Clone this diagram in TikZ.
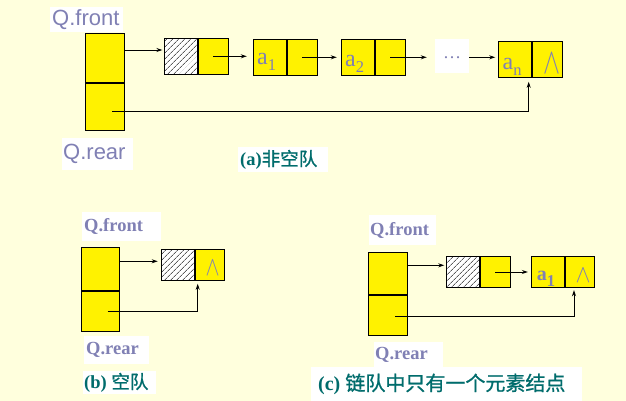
\documentclass[tikz,border=0pt]{standalone}
\usepackage{fontspec}
\setmainfont{Liberation Serif}
\setsansfont{Liberation Sans}
\newfontfamily\cjk{Noto Sans CJK SC}[FakeBold=1]
\usetikzlibrary{arrows.meta,patterns.meta}
\definecolor{paper}{RGB}{255,255,221}
\definecolor{ink}{RGB}{128,128,180}
\definecolor{capteal}{RGB}{0,108,108}
\newcommand{\subidx}[1]{\raisebox{-6pt}{\fontsize{16.5}{16.5}\selectfont #1}}
\newcommand{\nullmark}[2]{\resizebox{#1pt}{#2pt}{$\wedge$}}

\begin{document}
\begin{tikzpicture}[x=1pt,y=-1pt,
  cell/.style={draw=black,line width=1pt,fill=yellow,inner sep=0pt},
  hatched/.style={preaction={fill=white},pattern={Lines[angle=45,distance=4pt,line width=0.6pt]}},
  ptr/.style={line width=0.9pt,-{Stealth[length=6pt,width=4pt]}},
  lab/.style={fill=white,inner sep=1pt,anchor=north west,text=ink},
  sanslab/.style={lab,font=\sffamily\fontsize{22}{22}\selectfont},
  boldlab/.style={lab,font=\bfseries\fontsize{18.5}{18.5}\selectfont},
  caption/.style={fill=white,inner sep=1pt,anchor=north west,text=capteal},
  elem/.style={anchor=base west,inner sep=0pt,text=ink},
  nullsym/.style={inner sep=0pt,text=ink}]

% page
\path[fill=paper,use as bounding box] (0,0) rectangle (626,401);

% ---------- (a) non-empty queue ----------
\node[cell,minimum width=39,minimum height=49] (qaf) at (104.6,57.8) {};
\node[cell,minimum width=39,minimum height=47,anchor=north] (qar) at (qaf.south) {};

\node[cell,hatched,minimum width=33,minimum height=36] (hal) at (180.7,56.3) {};
\node[cell,minimum width=30.7,minimum height=36,anchor=west] (har) at (hal.east) {};

\node[cell,minimum width=33,minimum height=36] (al1) at (269.8,57.3) {};
\node[cell,minimum width=30,minimum height=36,anchor=west] (ar1) at (al1.east) {};

\node[cell,minimum width=33,minimum height=36] (al2) at (357.8,57.3) {};
\node[cell,minimum width=30,minimum height=36,anchor=west] (ar2) at (al2.east) {};

\node[fill=white,minimum width=34,minimum height=34,inner sep=0pt,text=ink,
      font=\fontsize{18}{18}\selectfont] (dots) at (452,56) {\raisebox{-5pt}{\ldots}};

\node[cell,minimum width=33,minimum height=36] (anl) at (514.8,59.3) {};
\node[cell,minimum width=30,minimum height=36,anchor=west] (anr) at (anl.east) {};

\node[elem,font=\fontsize{24}{24}\selectfont] (ta1) at (257,65) {a\subidx{1}};
\node[elem,font=\fontsize{24}{24}\selectfont] (ta2) at (345,66.5) {a\subidx{2}};
\node[elem,font=\fontsize{24}{24}\selectfont] (tan) at (502.5,69.5) {a\subidx{n}};
\node[nullsym] (wa) at (551.5,63) {\nullmark{17}{20}};

\coordinate (fa) at (164.3,50);
\draw[ptr,shorten >=2pt] (qaf.east |- fa) -- (fa);
\draw[ptr,shorten >=6pt] (har.center) -- (har.center -| al1.west);
\draw[ptr,shorten >=4pt] (ar1.center) -- (ar1.center -| al2.west);
\draw[ptr,shorten >=8pt] (ar2.center) -- (ar2.center -| dots.west);
\draw[ptr,shorten >=2.5pt] (dots.east |- ar2.center) -- (ar2.center -| anl.west);
\coordinate (rsa) at (112,111);
\coordinate (rca) at (528.7,111);
\draw[ptr,shorten >=4pt] (rsa) -- (rca) -- (rca |- anl.south);

\node[sanslab,minimum height=25] (fronta) at (50,7) {\makebox[71pt][l]{\hspace{1pt}Q.front}};
\node[sanslab,minimum height=32] (reara) at (62,138) {\makebox[69pt][l]{Q.rear}};
\node[caption,minimum height=25,font=\fontsize{18.5}{18.5}\selectfont] (capa) at (238,147)
  {\makebox[88pt][l]{\hspace{1pt}{\bfseries(a)}{\cjk 非空队}}};

% ---------- (b) empty queue ----------
\node[cell,minimum width=38.3,minimum height=42.7] (qbf) at (100.2,268.7) {};
\node[cell,minimum width=38.3,minimum height=40,anchor=north] (qbr) at (qbf.south) {};

\node[cell,hatched,minimum width=32.6,minimum height=31] (hbl) at (178,264.8) {};
\node[cell,minimum width=29,minimum height=31,anchor=west] (hbr) at (hbl.east) {};
\node[nullsym] (wb) at (212.5,268) {\nullmark{14}{15}};

\coordinate (fb) at (161.7,261.3);
\draw[ptr,shorten >=4pt] (qbf.east |- fb) -- (fb);
\coordinate (rsb) at (107.7,311);
\coordinate (rcb) at (197.7,311);
\draw[ptr,shorten >=3pt] (rsb) -- (rcb) -- (rcb |- hbl.south);

\node[boldlab,minimum height=29] (frontb) at (82,212) {\makebox[77pt][l]{\hspace{1pt}Q.front}};
\node[boldlab,minimum height=28] (rearb) at (84,336) {\makebox[63pt][l]{\hspace{1pt}Q.rear}};
\node[caption,minimum height=23,font=\fontsize{18.5}{18.5}\selectfont] (capb) at (83,371)
  {\makebox[71pt][l]{{\bfseries(b)} {\cjk 空队}}};

% ---------- (c) queue with one element ----------
\node[cell,minimum width=39,minimum height=42.4] (qcf) at (387.8,273.5) {};
\node[cell,minimum width=39,minimum height=39.6,anchor=north] (qcr) at (qcf.south) {};

\node[cell,hatched,minimum width=32.6,minimum height=31.4] (hcl) at (463,272) {};
\node[cell,minimum width=30,minimum height=31.4,anchor=west] (hcr) at (hcl.east) {};

\node[cell,minimum width=32.6,minimum height=31.4] (acl) at (548,272) {};
\node[cell,minimum width=29,minimum height=31.4,anchor=west] (acr) at (acl.east) {};
\node[elem,font=\bfseries\fontsize{20}{20}\selectfont] (tc1) at (536.7,280) {a\subidx{\bfseries 1}};
\node[nullsym] (wc) at (583,275) {\nullmark{15}{14}};

\coordinate (fc) at (446.7,265.3);
\draw[ptr,shorten >=2.4pt] (qcf.east |- fc) -- (fc);
\draw[ptr,shorten >=3.4pt] (hcr.center) -- (hcr.center -| acl.west);
\coordinate (rsc) at (395,316.3);
\coordinate (rcc) at (574,316.3);
\draw[ptr,shorten >=2pt] (rsc) -- (rcc) -- (rcc |- acl.south);

\node[boldlab,minimum height=30] (frontc) at (369,215) {\makebox[65pt][l]{Q.front}};
\node[boldlab,minimum height=25] (rearc) at (374,342) {\makebox[67pt][l]{Q.rear}};
\node[caption,minimum height=34,font=\fontsize{20}{20}\selectfont] (capc) at (311,367)
  {\makebox[269pt][l]{\hspace{6pt}{\bfseries(c)} {\cjk 链队中只有一个元素结点}}};
\end{tikzpicture}
\end{document}
